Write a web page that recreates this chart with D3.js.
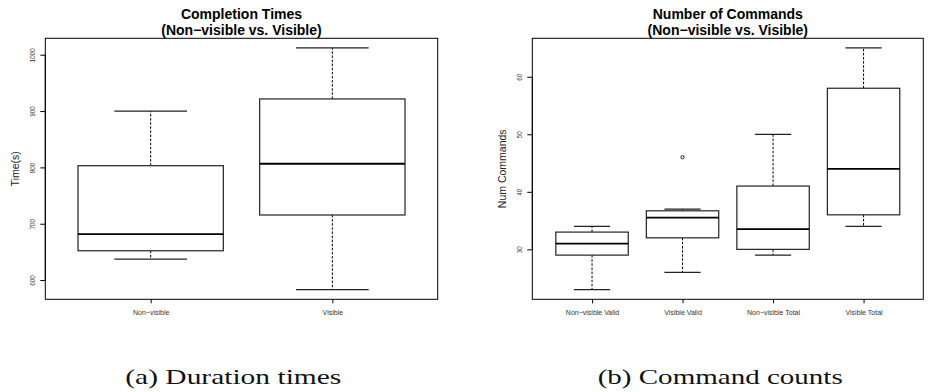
<!DOCTYPE html>
<html>
<head>
<meta charset="utf-8">
<script src="https://cdn.jsdelivr.net/npm/d3@7"></script>
<style>
    body { margin: 0; background: #fff; }
    svg { display: block; }
    .axis path { stroke: #000; }
    .axis line { stroke: #000; }
    .axis text { fill: #333; font-family: "Liberation Sans", Arial, sans-serif; }
</style>
</head>
<body>
<svg id="chart" width="928" height="392"></svg>
<script>
    // completion times panel
    const timeGroups = ["Non\u2212visible", "Visible"];
    const timeLow = [637, 583];
    const timeQ1 = [652, 715.5];
    const timeMedian = [681.5, 806.5];
    const timeQ3 = [803, 921.5];
    const timeHigh = [900, 1012];
    const timeTicks = [600, 700, 800, 900, 1000];

    // command counts panel
    const cmdGroups = ["Non\u2212visible Valid", "Visible Valid", "Non\u2212visible Total", "Visible Total"];
    const cmdLow = [23, 26, 29, 34];
    const cmdQ1 = [29, 32, 30, 36];
    const cmdMedian = [31, 35.5, 33.5, 44];
    const cmdQ3 = [33, 36.7, 41, 58];
    const cmdHigh = [34, 37, 50, 65];
    const cmdOutlierGroup = ["Visible Valid"];
    const cmdOutlierValue = [46];
    const cmdTicks = [30, 40, 50, 60];

    const svg = d3.select("#chart");

    function drawPanel (cfg) {
        const {left, right, top, bottom, groups, low, q1, median, q3, high, ticks} = cfg;
        const n = groups.length;
        const g = svg.append("g");

        const x = d3.scaleLinear()
            .domain([0.5 - 0.04 * n, n + 0.5 + 0.04 * n])
            .range([left, right]);

        const [lo, hi] = d3.extent(low.concat(high, cfg.outlierValue || []));
        const pad = (hi - lo) * 0.04;
        const y = d3.scaleLinear()
            .domain([lo - pad, hi + pad])
            .range([bottom, top]);

        const boxW = (x(2) - x(1)) * 0.8;
        const capW = boxW * 0.5;

        const items = groups.map((name, i) => ({
            name, i: i + 1,
            low: low[i], q1: q1[i], median: median[i], q3: q3[i], high: high[i]
        }));

        const box = g.selectAll(".box")
            .data(items)
            .join("g")
            .attr("class", "box");

        // whiskers
        box.append("line")
            .attr("x1", d => x(d.i)).attr("x2", d => x(d.i))
            .attr("y1", d => y(d.q3)).attr("y2", d => y(d.high))
            .attr("stroke", "#000").attr("stroke-width", 1)
            .attr("stroke-dasharray", "2.5,1.6");
        box.append("line")
            .attr("x1", d => x(d.i)).attr("x2", d => x(d.i))
            .attr("y1", d => y(d.q1)).attr("y2", d => y(d.low))
            .attr("stroke", "#000").attr("stroke-width", 1)
            .attr("stroke-dasharray", "2.5,1.6");

        // caps
        box.selectAll(".cap")
            .data(d => [d.low, d.high].map(v => ({i: d.i, v})))
            .join("line")
            .attr("class", "cap")
            .attr("x1", d => x(d.i) - capW / 2).attr("x2", d => x(d.i) + capW / 2)
            .attr("y1", d => y(d.v)).attr("y2", d => y(d.v))
            .attr("stroke", "#222").attr("stroke-width", 1.2);

        box.append("rect")
            .attr("x", d => x(d.i) - boxW / 2)
            .attr("width", boxW)
            .attr("y", d => y(d.q3))
            .attr("height", d => y(d.q1) - y(d.q3))
            .attr("fill", "#fff")
            .attr("stroke", "#222").attr("stroke-width", 1.2);

        box.append("line")
            .attr("x1", d => x(d.i) - boxW / 2).attr("x2", d => x(d.i) + boxW / 2)
            .attr("y1", d => y(d.median)).attr("y2", d => y(d.median))
            .attr("stroke", "#000").attr("stroke-width", 1.8);

        if (cfg.outlierGroup) {
            g.selectAll(".outlier")
                .data(cfg.outlierGroup.map((name, k) => ({i: groups.indexOf(name) + 1, v: cfg.outlierValue[k]})))
                .join("circle")
                .attr("class", "outlier")
                .attr("cx", d => x(d.i))
                .attr("cy", d => y(d.v))
                .attr("r", 1.6)
                .attr("fill", "none")
                .attr("stroke", "#000").attr("stroke-width", 0.9);
        }

        // frame
        g.append("rect")
            .attr("x", left).attr("y", top)
            .attr("width", right - left).attr("height", bottom - top)
            .attr("fill", "none").attr("stroke", "#000").attr("stroke-width", 1);

        // y axis
        const yAxis = g.append("g")
            .attr("class", "axis")
            .attr("transform", `translate(${left},0)`)
            .call(d3.axisLeft(y).tickValues(ticks).tickSize(5).tickSizeOuter(0).tickFormat(d3.format("d")));
        yAxis.select(".domain")
            .attr("d", `M0,${y(ticks[0])}V${y(ticks[ticks.length - 1])}`);
        yAxis.selectAll(".tick text")
            .attr("font-size", 6.3)
            .attr("x", null).attr("dy", null)
            .attr("text-anchor", "middle")
            .attr("transform", "translate(-10,0) rotate(-90)");

        // x axis
        const xAxis = g.append("g")
            .attr("class", "axis")
            .attr("transform", `translate(0,${bottom})`)
            .call(d3.axisBottom(x).tickValues(d3.range(1, n + 1)).tickSize(4).tickSizeOuter(0)
                .tickFormat(d => groups[d - 1]));
        xAxis.select(".domain").remove();
        xAxis.selectAll(".tick text")
            .attr("font-size", 7)
            .attr("y", 10.3);

        // titles
        const title = g.append("text")
            .attr("x", (left + right) / 2)
            .attr("text-anchor", "middle")
            .attr("font-family", "Liberation Sans, Arial, sans-serif")
            .attr("font-weight", "bold")
            .attr("font-size", 14);
        title.append("tspan").attr("x", (left + right) / 2).attr("y", 18.5).text(cfg.title);
        title.append("tspan").attr("x", (left + right) / 2).attr("y", 34.5).text("(Non\u2212visible vs. Visible)");

        g.append("text")
            .attr("transform", `translate(${cfg.ylabelX},${(top + bottom) / 2}) rotate(-90)`)
            .attr("text-anchor", "middle")
            .attr("font-family", "Liberation Sans, Arial, sans-serif")
            .attr("font-size", 10.5)
            .attr("fill", "#222")
            .text(cfg.ylabel);

        svg.append("text")
            .attr("x", cfg.captionX)
            .attr("y", 384)
            .attr("text-anchor", "middle")
            .attr("font-family", "Liberation Serif, Times New Roman, serif")
            .attr("font-size", 22)
            .attr("fill", "#111")
            .attr("textLength", cfg.captionWidth)
            .attr("lengthAdjust", "spacingAndGlyphs")
            .text(cfg.caption);
    }

    drawPanel({
        left: 45.3, right: 437.7, top: 38.3, bottom: 299.3,
        groups: timeGroups, low: timeLow, q1: timeQ1, median: timeMedian, q3: timeQ3, high: timeHigh,
        ticks: timeTicks,
        title: "Completion Times",
        ylabel: "Time(s)", ylabelX: 19,
        caption: "(a) Duration times", captionX: 233.3, captionWidth: 216
    });

    drawPanel({
        left: 532.3, right: 923.3, top: 38.3, bottom: 299.3,
        groups: cmdGroups, low: cmdLow, q1: cmdQ1, median: cmdMedian, q3: cmdQ3, high: cmdHigh,
        outlierGroup: cmdOutlierGroup, outlierValue: cmdOutlierValue,
        ticks: cmdTicks,
        title: "Number of Commands",
        ylabel: "Num Commands", ylabelX: 506,
        caption: "(b) Command counts", captionX: 720.2, captionWidth: 245
    });
</script>
</body>
</html>
